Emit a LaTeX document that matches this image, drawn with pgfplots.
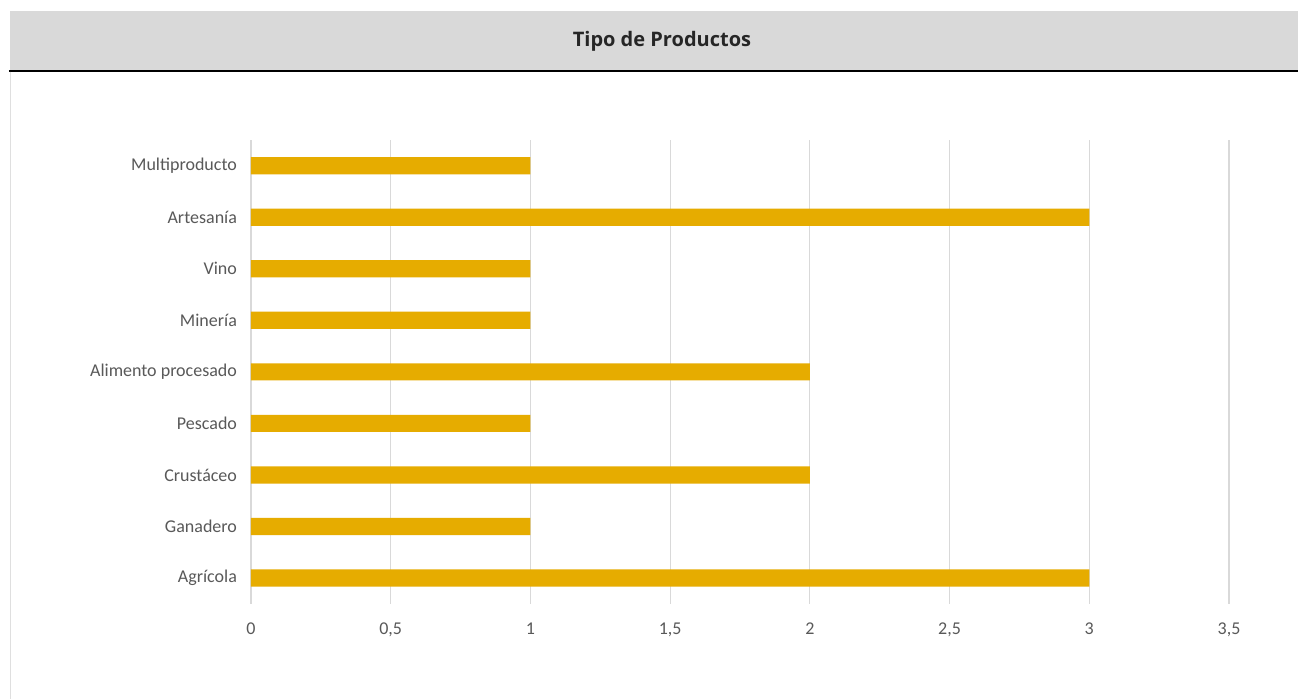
\documentclass[border=0pt]{standalone}
\usepackage{pgfplots}
\pgfplotsset{compat=1.18}
\usepackage{fontspec}
\setmainfont{Carlito}
\newfontfamily\titlefont{Open Sans}
\definecolor{bargold}{RGB}{230,172,0}
\definecolor{headgray}{RGB}{217,217,217}
\definecolor{labgray}{RGB}{89,89,89}
\definecolor{gridgray}{RGB}{217,217,217}
\begin{document}
\begin{tikzpicture}[x=1pt,y=1pt]
% pixel (px,py) -> ((px-251)*0.5, (603.75-py)*0.5)
\useasboundingbox (-125.5,-47.625) rectangle (523.5,301.875);
\fill[white] (-125.5,-47.625) rectangle (523.5,301.875);
\fill[headgray] (-120.5,266.375) rectangle (523.5,296.375);
\draw[black,line width=0.9pt] (-121,266.375) -- (523.5,266.375);
\draw[gray!25,line width=0.8pt] (-120.3,266) -- (-120.3,-47.625);
\node[font=\titlefont\bfseries\fontsize{10}{12}\selectfont, text=black!85] at (205.5,281.4) {Tipo de Productos};
\begin{axis}[
  at={(0,0)}, anchor=south west,
  scale only axis,
  width=489pt, height=231.875pt,
  xmin=0, xmax=3.5,
  ymin=-0.5, ymax=8.5,
  clip=false,
  xbar, bar width=8.6pt,
  axis x line*=bottom, axis y line*=left,
  axis line style={draw=none},
  xtick={0,0.5,1,1.5,2,2.5,3,3.5},
  xticklabels={0,{0,5},1,{1,5},2,{2,5},3,{3,5}},
  ytick={0,...,8},
  yticklabels={Agrícola,Ganadero,Crustáceo,Pescado,Alimento procesado,Minería,Vino,Artesanía,Multiproducto},
  xmajorgrids, grid style={gridgray,line width=0.6pt},
  major tick length=0pt,
  tick label style={font=\fontsize{9}{10}\selectfont, text=labgray},
  xticklabel style={yshift=-6pt},
  yticklabel style={xshift=-3.5pt},
]
\addplot[fill=bargold, draw=none] coordinates {
(3,0) (1,1) (2,2) (1,3) (2,4) (1,5) (1,6) (3,7) (1,8)
};
\end{axis}
\end{tikzpicture}
\end{document}
